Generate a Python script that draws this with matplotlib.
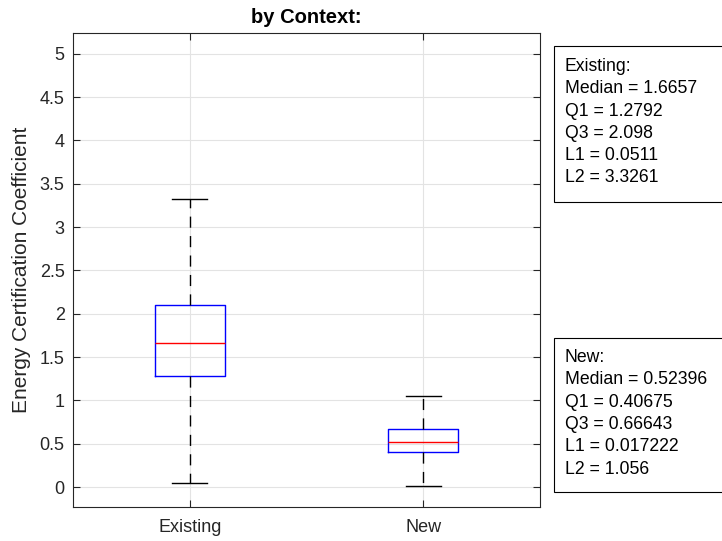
import matplotlib
matplotlib.use("Agg")
import matplotlib.pyplot as plt
from matplotlib.patches import Rectangle

plt.rcParams['font.family'] = ['Liberation Sans', 'DejaVu Sans']

categories = ["Existing", "New"]
medians = [1.6657, 0.52396]
q1s = [1.2792, 0.40675]
q3s = [2.098, 0.66643]
lower_whiskers = [0.0511, 0.017222]
upper_whiskers = [3.3261, 1.056]
yticks = [0, 0.5, 1, 1.5, 2, 2.5, 3, 3.5, 4, 4.5, 5]

W, H = 722, 541
fig = plt.figure(figsize=(W / 100, H / 100), dpi=100)
ax = fig.add_axes([73 / W, 1 - 507 / H, (540 - 73) / W, (507 - 33) / H])

stats = []
for name, med, q1, q3, lo, hi in zip(categories, medians, q1s, q3s,
                                      lower_whiskers, upper_whiskers):
    stats.append(dict(label=name, med=med, q1=q1, q3=q3,
                      whislo=lo, whishi=hi, fliers=[]))

ax.bxp(stats, positions=[1, 2], widths=0.3, showfliers=False,
       boxprops=dict(color='#0000ff', linewidth=1.0),
       medianprops=dict(color='#ff0000', linewidth=1.0),
       whiskerprops=dict(color='black', linewidth=1.0, linestyle=(0, (8, 6))),
       capprops=dict(color='black', linewidth=1.0),
       capwidths=0.15)

ax.set_xlim(0.5, 2.5)
ax.set_ylim(-0.23, 5.24)
ax.set_yticks(yticks)
ax.set_yticklabels([f"{t:g}" for t in yticks])
ax.set_xticks([1, 2])
ax.set_xticklabels(categories)
ax.tick_params(direction='in', top=True, right=True, labelsize=13,
               length=5, width=0.8, colors='#262626', labelcolor='#262626')
ax.tick_params(axis='x', pad=9)
ax.tick_params(axis='y', pad=6)
ax.grid(True, color='#e3e3e3', linewidth=0.8)
ax.set_axisbelow(True)
for s in ax.spines.values():
    s.set_color('#262626')
    s.set_linewidth(0.8)

ax.set_ylabel("Energy Certification Coefficient", fontsize=15, color='#262626')
ax.yaxis.set_label_coords((31 - 73) / 467, 0.5)
ax.set_title("by Context:", fontsize=14.5, fontweight='bold', pad=7)

# summary boxes to the right of the axes (pixel layout)
box_tops = [46, 338]
box_heights = [156, 154]
first_baselines = [71, 362]
line_step = 22.3
for i, (name, med, q1, q3, lo, hi) in enumerate(zip(categories, medians, q1s, q3s,
                                                     lower_whiskers, upper_whiskers)):
    lines = [f"{name}:", f"Median = {med:.5g}", f"Q1 = {q1:.5g}",
             f"Q3 = {q3:.5g}", f"L1 = {lo:.5g}", f"L2 = {hi:.5g}"]
    top = box_tops[i]
    rect = Rectangle((554 / W, 1 - (top + box_heights[i]) / H),
                     (740 - 554) / W, box_heights[i] / H,
                     transform=fig.transFigure, facecolor='white',
                     edgecolor='black', linewidth=0.8, clip_on=False)
    fig.add_artist(rect)
    for k, line in enumerate(lines):
        fig.text(565 / W, 1 - (first_baselines[i] + line_step * k) / H, line,
                 fontsize=12.7, va='baseline', ha='left', color='black')

fig.savefig("out.png", dpi=100)
